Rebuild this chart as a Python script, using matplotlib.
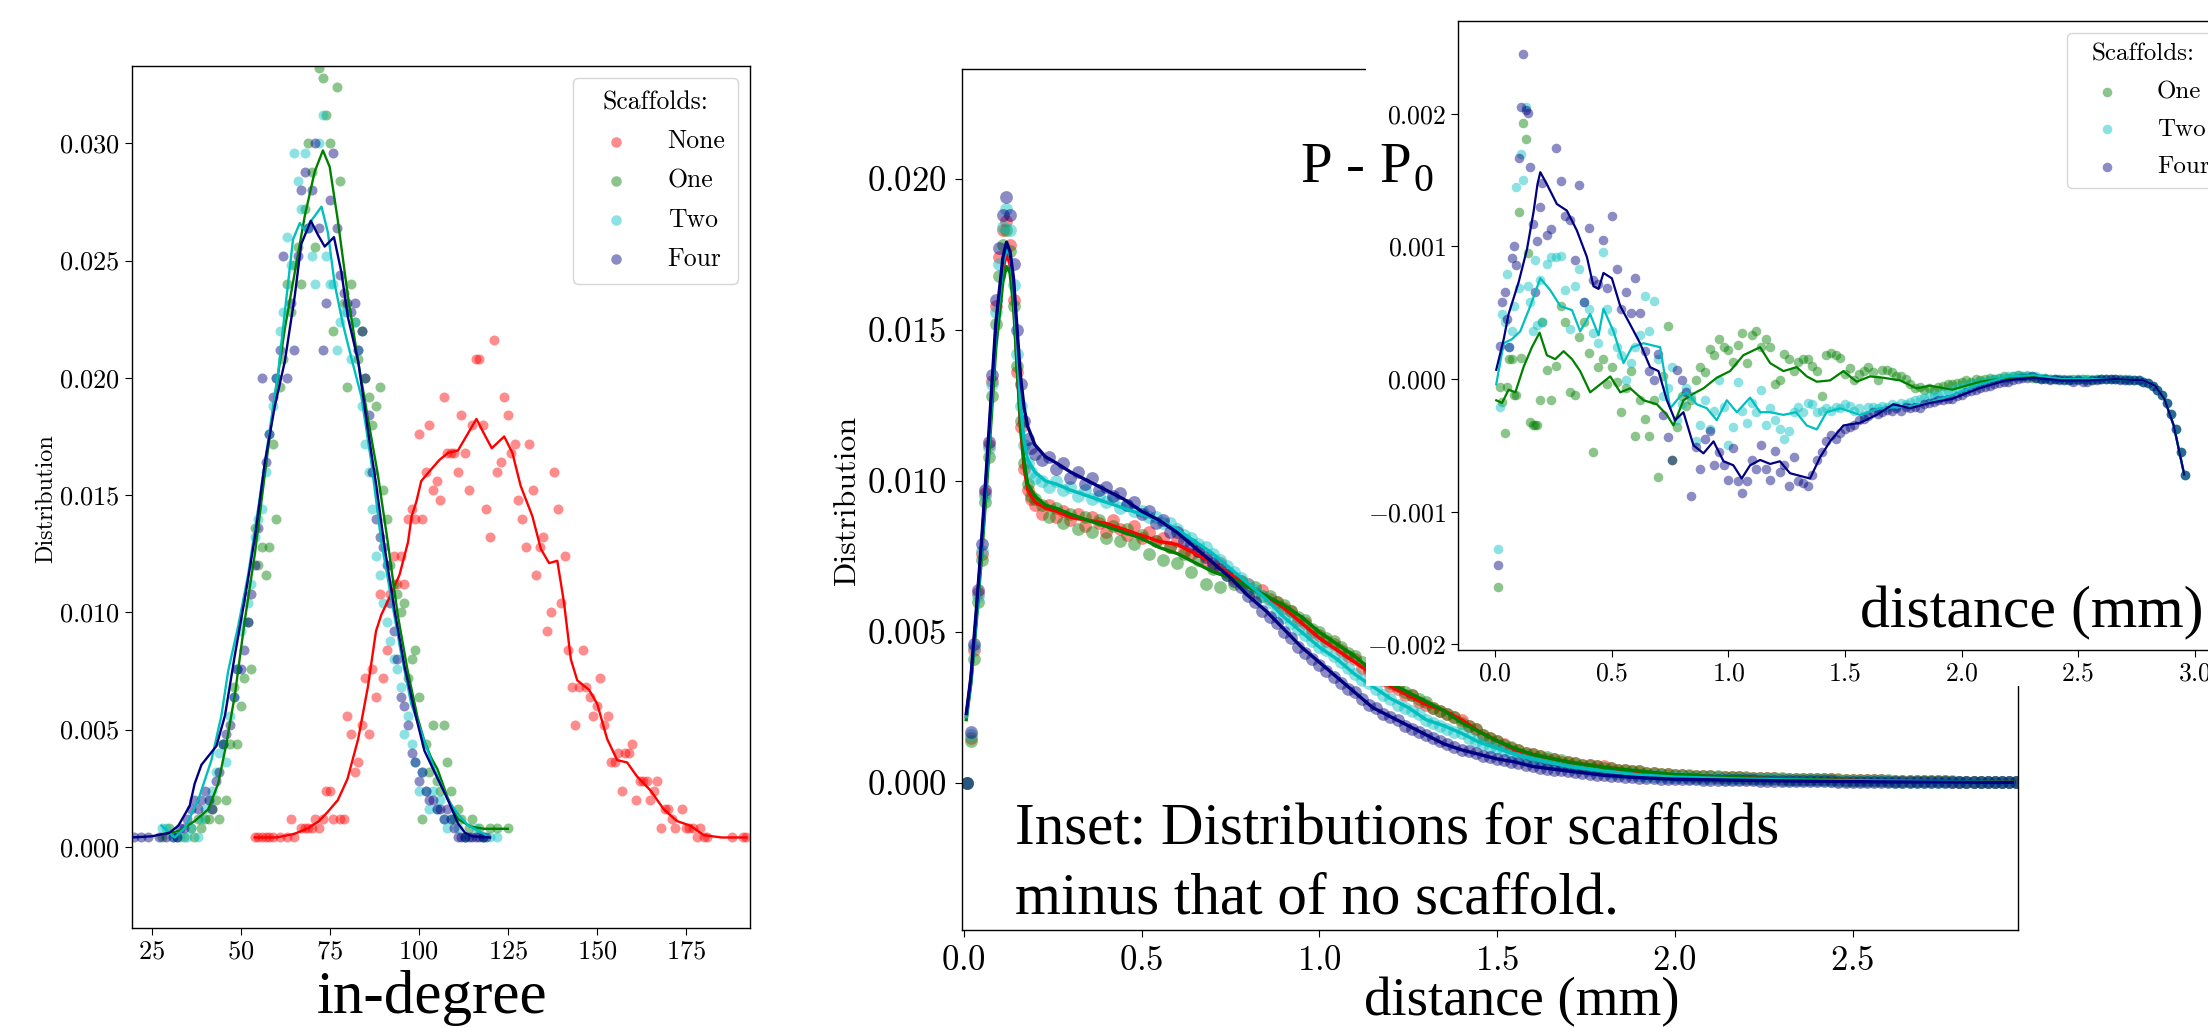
import numpy as np
import matplotlib
matplotlib.use("Agg")
import matplotlib.pyplot as plt
from matplotlib.ticker import FuncFormatter, FixedLocator
from matplotlib.patches import Rectangle

# ---------------- DATA ----------------
SERIES = ["None", "One", "Two", "Four"]
N_NODES = 2500  # in-degree distribution = node count / N_NODES

# left panel: (in-degree, node count)
NONE_PTS = [(54,1),(55,1),(56,1),(57,1),(58,1),(59,1),(61,1),(63,1),(64,3),(65,1),(67,2),(68,2),(69,2),(70,2),
            (71,3),(72,2),(73,3),(74,6),(75,6),(76,3),(78,3),(79,3),(80,14),(81,12),(82,8),(83,9),(84,13),(85,18),
            (86,12),(87,19),(88,16),(89,27),(90,18),(91,21),(92,27),(93,31),(94,28),(95,31),(96,28),(97,35),(98,36),
            (99,35),(100,44),(101,35),(102,40),(103,45),(104,38),(105,39),(106,37),(107,48),(108,42),(109,42),(110,42),
            (111,40),(112,46),(113,42),(114,38),(115,45),(116,52),(117,52),(118,45),(119,36),(120,33),(121,54),(122,40),
            (123,41),(124,48),(125,46),(126,42),(127,43),(128,37),(129,35),(130,32),(131,43),(132,38),(133,29),(134,32),
            (135,33),(136,23),(137,25),(138,40),(139,36),(140,26),(141,31),(142,21),(143,17),(144,13),(145,17),(146,21),
            (147,17),(148,16),(149,14),(150,15),(151,18),(152,13),(153,14),(154,9),(155,9),(156,10),(157,6),(158,10),
            (159,10),(160,11),(161,5),(162,7),(163,7),(164,7),(165,5),(166,6),(167,7),(168,2),(169,4),(170,4),(171,3),
            (172,2),(174,4),(175,2),(176,2),(177,2),(178,1),(179,2),(180,1),(181,1),(188,1),(191,1),(192,1)]
ONE_PTS = [(28,1),(30,2),(32,1),(34,1),(36,2),(37,1),(38,3),(39,2),(40,3),(41,3),(42,4),(43,5),(44,3),(45,11),(46,5),
           (47,11),(48,17),(49,11),(50,15),(51,18),(52,24),(53,19),(54,34),(55,30),(56,32),(57,29),(58,32),(59,43),
           (60,35),(61,49),(62,52),(63,60),(64,57),(65,62),(66,64),(67,60),(68,68),(69,75),(70,72),(71,64),(72,83),
           (73,82),(74,78),(75,75),(76,55),(77,81),(78,71),(79,58),(80,49),(81,60),(82,56),(83,52),(84,55),(85,50),
           (86,48),(87,45),(88,47),(89,49),(90,38),(91,35),(92,30),(93,28),(94,27),(95,25),(96,26),(97,18),(98,20),
           (99,21),(100,16),(101,3),(102,11),(103,8),(104,13),(105,7),(106,6),(107,13),(108,9),(109,6),(110,3),(111,4),
           (112,3),(113,1),(114,2),(115,3),(117,2),(118,1),(120,2),(122,2),(125,2)]
TWO_PTS = [(28,2),(29,2),(31,1),(33,1),(35,1),(36,2),(38,1),(39,3),(40,4),(41,5),(42,6),(43,8),(44,10),(45,11),(46,9),
           (47,14),(48,16),(49,19),(50,23),(51,24),(52,26),(53,28),(54,33),(55,35),(56,36),(57,40),(58,44),(59,47),
           (60,50),(61,55),(62,57),(63,65),(64,62),(65,74),(66,71),(67,68),(68,74),(69,66),(70,63),(71,60),(72,75),
           (73,78),(74,63),(75,60),(76,60),(77,53),(78,56),(79,57),(80,57),(81,52),(82,56),(83,53),(84,47),(85,43),
           (86,40),(87,36),(88,31),(89,29),(90,26),(91,24),(92,22),(93,20),(94,19),(95,17),(96,12),(97,14),(98,11),
           (99,9),(100,6),(101,8),(102,6),(103,4),(104,6),(105,4),(106,5),(107,3),(108,2),(109,3),(111,2),(113,1),
           (116,2),(118,1),(120,1),(122,1)]
FOUR_PTS = [(20,1),(22,1),(24,1),(27,1),(29,1),(31,1),(32,1),(33,2),(34,2),(35,3),(36,4),(37,5),(38,4),(39,5),(40,6),
            (41,5),(42,4),(43,7),(44,8),(45,11),(46,12),(47,13),(48,16),(49,19),(50,19),(51,21),(52,24),(53,27),(54,30),
            (55,34),(56,50),(57,41),(58,44),(59,48),(60,50),(61,53),(62,63),(63,50),(64,58),(65,53),(66,63),(67,70),
            (68,72),(69,66),(70,70),(71,75),(72,66),(73,53),(74,58),(75,69),(76,74),(77,66),(78,61),(79,59),(80,58),
            (81,57),(82,58),(83,53),(84,55),(85,50),(86,46),(87,40),(88,35),(89,33),(90,32),(91,30),(92,26),(93,23),
            (94,20),(95,16),(96,15),(97,13),(98,10),(99,9),(100,7),(101,8),(102,6),(103,5),(104,5),(105,4),(106,4),
            (107,3),(108,4),(109,3),(110,2),(111,1),(112,1),(113,1),(114,1),(115,1),(116,1),(117,1),(118,1),(119,1)]

# left panel smoothed curves (in-degree, distribution x1e-4)
NONE_LINE_X = [54, 60, 65, 69, 72, 74.5, 77.3, 80, 83, 85.7, 88, 89.5, 92.3, 94.6, 97, 98, 99.3, 100.7, 103.5, 105.8,
               108.2, 111, 113.7, 116.2, 118.4, 120.5, 124, 126.3, 128.6, 131.9, 134.3, 136.6, 138.9, 140.8, 142.7,
               144.5, 147.8, 150.1, 152.9, 155.7, 158.5, 161.3, 165.1, 168.8, 172.5, 176.3, 180, 185, 192]
NONE_LINE_Y = [4, 4, 5.5, 8, 11, 15, 20, 29, 46, 68, 92, 99, 108, 116, 130, 141, 147, 156, 161, 165, 168, 169, 176,
               182.5, 176, 170, 175, 168, 154, 141, 127, 121, 122, 104, 80, 71, 67, 61, 46, 37, 36, 30, 24, 16, 11, 9,
               5, 4, 4]
ONE_LINE_X = [28, 33, 37.1, 40.9, 43.7, 46, 48.4, 51.2, 54, 56.8, 59.6, 62.4, 65.2, 68, 70.8, 73.1, 75, 77.3, 80.1,
              83, 85.7, 88.5, 91.3, 94.1, 96.9, 99.7, 101.6, 103.5, 105.3, 108.1, 110.9, 114.6, 118.4, 125]
ONE_LINE_Y = [5, 7, 11, 16, 27, 44, 65, 97, 125, 159, 192, 221, 245, 269, 288, 297, 290, 267, 235, 207, 183, 159,
              130, 99, 75, 55, 45, 38, 33, 21, 12, 8.6, 7.7, 7.7]
TWO_LINE_X = [27.8, 31.5, 34.3, 38.1, 41.8, 44.6, 46.5, 49.3, 52.1, 54.9, 57.7, 60.5, 62.4, 64.7, 66.6, 68, 70.3,
              72.7, 74.5, 76.4, 78.7, 81, 83.9, 86.7, 89.5, 92.3, 95.1, 97.9, 100.7, 104.4, 108.2, 111, 114, 119]
TWO_LINE_Y = [9, 4, 8, 20, 37, 56, 75, 94, 116, 144, 173, 202, 228, 259, 266, 263, 268, 273, 262, 240, 223, 209,
              192, 164, 130, 106, 82, 61, 49, 33, 20, 14, 9, 5]
FOUR_LINE_X = [19.4, 25, 30, 32.5, 35.7, 37.1, 39, 43.2, 45.6, 48.4, 51.2, 54, 56.8, 59.6, 62.4, 65.2, 67, 69.7,
               71.7, 73.6, 76.2, 78.3, 80.1, 83, 85.7, 88.1, 90.4, 93.2, 96, 98.8, 101.6, 104.4, 108.2, 111, 113,
               115, 120]
FOUR_LINE_Y = [4, 4.5, 6, 9, 17.5, 27, 35, 43, 56, 82, 106, 132, 164, 188, 207, 235, 257, 267, 261, 256, 260, 245,
               226, 207, 178, 154, 128, 101, 77, 58, 41, 32, 20, 10, 6, 4.5, 4]

# distance bins (mm): 0.01 steps up to 0.20, then 0.02 steps
DIST_BINS = np.round(np.concatenate([np.arange(1, 21) * 0.01, np.arange(11, 149) * 0.02]), 2)

# main panel distance distributions (x1e-4)
NONE_MAIN = [0, 15, 44, 63, 76, 96, 112, 133, 158, 174, 183, 186, 178, 160, 136, 118, 104, 97, 94, 92,
             89, 92, 88, 90, 87, 89, 85, 88, 86, 83,
             87, 84, 82, 85, 81, 83, 80, 81, 78, 80,
             77, 76, 77, 74, 72, 73, 70, 68, 67, 66,
             63, 64, 61, 60, 58, 57, 54, 53, 50, 49,
             47, 46, 44, 42, 41, 38, 37, 35, 34, 32,
             31, 29, 29, 27, 26, 25, 24, 23, 22, 21,
             19, 18, 16, 15, 14, 13, 11.5, 11, 10, 9.5,
             9, 8, 8, 7, 7, 6.5, 6, 6, 5.5, 5.5,
             5, 4.5, 4.5, 4, 4, 3.5, 3.5, 3, 3, 2.7,
             2.6, 2.5, 2.4, 2.3, 2.2, 2.1, 2.0, 2.0, 1.9, 1.8,
             1.8, 1.7, 1.6, 1.6, 1.5, 1.5, 1.4, 1.4, 1.3, 1.3,
             1.2, 1.2, 1.1, 1.1, 1.0, 1.0, 0.9, 0.9, 0.9, 0.8,
             0.8, 0.8, 0.7, 0.7, 0.7, 0.6, 0.6, 0.6, 0.5, 0.5,
             0.5, 0.5, 0.4, 0.4, 0.4, 0.4, 0.3, 0.3]
ONE_MAIN = [0, 14, 41, 60, 74, 93, 108, 128, 152, 168, 178, 183, 176, 158, 138, 120, 106, 99, 95, 94,
            92, 88, 91, 86, 89, 84, 88, 83, 87, 81,
            85, 80, 84, 79, 82, 76, 80, 74, 78, 73,
            76, 70, 74, 66, 71, 65, 69, 66, 67, 64,
            65, 62, 62, 60, 59, 57, 55, 54, 51, 50,
            48, 47, 45, 43, 42, 40, 38, 36, 35, 33,
            32, 30, 29, 28, 27, 25, 24, 23, 22, 20,
            19, 18, 16, 15, 14, 12.5, 12, 11, 10, 9.5,
            9, 8.5, 8, 7.5, 7, 6.5, 6, 6, 5.5, 5,
            5, 4.5, 4.5, 4, 4, 3.5, 3.5, 3, 3, 2.8,
            2.7, 2.6, 2.5, 2.4, 2.3, 2.2, 2.1, 2.0, 2.0, 1.9,
            1.8, 1.8, 1.7, 1.6, 1.6, 1.5, 1.5, 1.4, 1.4, 1.3,
            1.3, 1.2, 1.2, 1.1, 1.1, 1.0, 1.0, 0.9, 0.9, 0.9,
            0.8, 0.8, 0.8, 0.7, 0.7, 0.7, 0.6, 0.6, 0.6, 0.5,
            0.5, 0.5, 0.5, 0.4, 0.4, 0.4, 0.3, 0.3]
TWO_MAIN = [0, 16, 45, 62, 77, 95, 111, 132, 156, 172, 184, 190, 183, 165, 142, 125, 112, 106, 103, 101,
            100, 98, 100, 97, 98, 95, 97, 94, 95, 93,
            94, 91, 92, 90, 90, 88, 88, 86, 86, 84,
            82, 81, 79, 78, 76, 74, 72, 70, 68, 66,
            64, 62, 60, 57, 55, 53, 51, 49, 47, 45,
            44, 42, 40, 38, 36, 34, 33, 31, 29, 28,
            26, 25, 24, 23, 21, 20, 19, 18, 17, 16.5,
            15, 14, 13, 12, 11.5, 11, 10, 9, 8.5, 8,
            7.5, 7, 6.5, 6, 5.5, 5, 5, 4.5, 4.3, 4,
            3.7, 3.4, 3.2, 3, 2.6, 2.5, 2.4, 2.2, 2.1, 2.0,
            1.9, 1.8, 1.8, 1.7, 1.6, 1.6, 1.5, 1.5, 1.4, 1.4,
            1.3, 1.3, 1.2, 1.2, 1.1, 1.1, 1.0, 1.0, 0.9, 0.9,
            0.9, 0.8, 0.8, 0.8, 0.7, 0.7, 0.7, 0.6, 0.6, 0.6,
            0.5, 0.5, 0.5, 0.5, 0.4, 0.4, 0.4, 0.4, 0.3, 0.3,
            0.3, 0.3, 0.3, 0.2, 0.2, 0.2, 0.2, 0.2]
FOUR_MAIN = [0, 17, 46, 64, 79, 97, 113, 135, 160, 177, 188, 194, 188, 172, 150, 132, 120, 114, 111, 109,
             107, 108, 104, 106, 101, 103, 99, 101, 97, 98,
             95, 96, 92, 93, 89, 90, 86, 87, 83, 83,
             80, 79, 77, 75, 73, 71, 69, 67, 65, 62,
             60, 57, 55, 53, 50, 48, 45, 43, 41, 39,
             37, 35, 33, 31, 30, 28, 26, 25, 23, 22,
             21, 19, 18, 17, 16, 15, 14, 13, 12, 11,
             10.5, 10, 9, 8.5, 8, 7.5, 7, 6.5, 6, 5.5,
             5, 4.8, 4.5, 4.2, 4, 3.6, 3.3, 3, 2.8, 2.6,
             2.4, 2.2, 2, 1.9, 1.8, 1.7, 1.6, 1.5, 1.4, 1.3,
             1.3, 1.2, 1.2, 1.1, 1.1, 1.0, 1.0, 1.0, 0.9, 0.9,
             0.9, 0.8, 0.8, 0.8, 0.7, 0.7, 0.7, 0.7, 0.6, 0.6,
             0.6, 0.6, 0.5, 0.5, 0.5, 0.5, 0.5, 0.4, 0.4, 0.4,
             0.4, 0.4, 0.4, 0.3, 0.3, 0.3, 0.3, 0.3, 0.3, 0.3,
             0.2, 0.2, 0.2, 0.2, 0.2, 0.2, 0.2, 0.2]

# main panel smoothed curves (x1e-4)
MAIN_LINE_D = [0.007, 0.02, 0.035, 0.05, 0.07, 0.09, 0.11, 0.12, 0.13, 0.14, 0.15, 0.16, 0.17, 0.18, 0.20, 0.23,
               0.26, 0.30, 0.35, 0.40, 0.45, 0.50, 0.55, 0.60, 0.65, 0.70, 0.75, 0.80, 0.85, 0.90, 0.95, 1.00, 1.05,
               1.10, 1.15, 1.20, 1.25, 1.30, 1.35, 1.40, 1.45, 1.50, 1.55, 1.60, 1.70, 1.80, 1.90, 2.00, 2.20, 2.40,
               2.60, 2.80, 2.95]
NONE_MAIN_LINE = [22, 34, 55, 78, 112, 148, 170, 175, 172, 160, 138, 117, 104, 97, 93, 91, 90, 88, 87, 86, 84, 82,
                  80, 79, 76, 73, 69, 65, 62, 58, 53, 48, 44, 40, 36, 32, 29, 26, 24, 21, 17, 14, 11, 9.5, 7, 5.3,
                  3.8, 2.7, 1.7, 1.1, 0.7, 0.5, 0.3]
ONE_MAIN_LINE = [21, 33, 53, 75, 108, 144, 166, 171, 169, 158, 138, 119, 106, 99, 95, 92, 91, 89, 87, 85, 83, 81,
                 78, 76, 73, 70, 68, 65, 62, 59, 55, 50, 46, 42, 37, 33, 30, 27, 24, 20, 17, 14, 11.5, 9.5, 7, 5.2,
                 4, 2.8, 1.7, 1.1, 0.7, 0.5, 0.3]
TWO_MAIN_LINE = [22, 34, 55, 78, 112, 150, 172, 177, 175, 165, 145, 125, 113, 107, 103, 100, 99, 97, 95, 93, 91, 89,
                 87, 84, 80, 76, 71, 66, 61, 55, 50, 45, 41, 36, 32, 28, 25, 21, 19, 16.5, 13.5, 11.5, 9.5, 8, 5.5,
                 4, 2.7, 2, 1.3, 0.9, 0.6, 0.4, 0.2]
FOUR_MAIN_LINE = [23, 35, 57, 80, 115, 152, 174, 179, 176, 167, 150, 134, 124, 118, 112, 108, 106, 103, 100, 97, 94,
                  90, 87, 83, 78, 73, 68, 62, 57, 51, 45, 40, 35, 30, 25, 22, 19, 16, 13, 11, 9.5, 8, 7, 5.5, 4,
                  2.6, 1.8, 1.3, 0.9, 0.6, 0.4, 0.3, 0.2]

# inset: P - P0 (x1e-5) on DIST_BINS
ONE_INSET = [-157, -6, -17, -41, -6, 15, 15, -12, -12, 126, 16, 193, 181, 95, -32, -35, -35, -35, -16, 43,
             7, -16, 10, 55, 43, -10, -12, 32, 43, 20,
             -55, 9, 15, -4, 9, -2, -25, -7, 6, -43,
             -16, -30, -43, -16, -74, 2, 40, -61, -36, -13,
             -20, -16, -1, 9, 5, 23, 18, 30, 24, 22,
             13, 26, 35, 12, 33, 36, 24, 30, 24, -4,
             -1, 19, 15, 6, 13, 15, 15, 10, 6, -13,
             18, 20, 18, 16, 4, 8, -1, 4, 6, 9,
             5, -1, 7, 7, 5, 2, 2, 0, -4, -7,
             -6, -8, -7, -8, -6, -5, -4, -4, -3, -2,
             -1, -2, 0, -1, 0, 1, 0, 1, 2, 1,
             2, 3, 2, 2, 1, 1, 0, 1, 0, 0,
             0, 0, -1, 0, 0, 0, 0, -1, 0, 0,
             0, 0, 0, 0, 0, -1, -1, -1, -2, -3,
             -5, -8, -12, -18, -26, -38, -55, -72]
TWO_INSET = [-128, -21, 49, 43, 79, 24, 36, 55, 145, 69, 170, 150, 205, 70, 58, 36, 90, 41, 75, 43,
             87, 92, 92, 93, 67, 38, 70, 83, 58, 53,
             35, 27, 96, 53, 36, 24, 18, -1, 12, 24,
             33, 63, 36, 59, 15, -13, -7, 9, -31, -19,
             -7, -13, -47, -35, -16, -38, -24, -1, -21, -50,
             -36, -2, -24, -33, -18, -25, -8, -35, -22, -31,
             -38, -45, -39, -25, -21, -25, -18, -19, -25, -24,
             -22, -24, -21, -22, -19, -20, -24, -22, -27, -21,
             -21, -22, -20, -21, -19, -20, -18, -19, -17, -16,
             -15, -14, -13, -12, -12, -10, -9, -8, -7, -6,
             -5, -4, -3, -2, -2, -1, 0, 1, 1, 2,
             2, 3, 2, 3, 2, 2, 1, 1, 0, 0,
             0, -1, 0, -1, 0, 0, -1, 0, 0, 0,
             0, 0, 0, 0, -1, 0, -1, -1, -2, -3,
             -5, -8, -12, -18, -26, -38, -55, -72]
FOUR_INSET = [-140, 25, 58, 66, 45, 24, 91, 100, 86, 167, 205, 245, 203, 201, 160, 117, 66, 104, 130, 148,
              109, 113, 174, 149, 123, 120, 90, 146, 58, 114,
              75, 72, 105, 69, 123, 83, 53, 66, 50, 76,
              50, 21, 6, -1, 19, -27, -44, -61, 7, -1,
              -10, -88, -51, -68, -45, -39, -65, -55, -65, -76,
              -52, -77, -86, -77, -61, -68, -50, -68, -76, -54,
              -70, -65, -81, -59, -77, -78, -81, -72, -61, -55,
              -47, -42, -45, -41, -38, -36, -35, -31, -30, -28,
              -25, -26, -25, -23, -24, -22, -24, -21, -22, -21,
              -22, -19, -18, -17, -16, -16, -15, -15, -13, -12,
              -10, -9, -8, -7, -6, -5, -4, -3, -2, -2,
              -1, 0, 1, 1, 2, 1, 0, 0, -1, 0,
              -1, -1, -1, -2, -1, -2, -2, -1, -1, 0,
              0, 0, 0, -1, -1, -1, -1, -1, -2, -3,
              -5, -8, -12, -18, -26, -38, -55, -72]

# inset smoothed curves (x1e-5)
ONE_INSET_LINE_D = [0.004, 0.029, 0.057, 0.086, 0.121, 0.157, 0.19, 0.221, 0.257, 0.293, 0.329, 0.364, 0.407, 0.45,
                    0.493, 0.536, 0.579, 0.636, 0.693, 0.736, 0.764, 0.807, 0.85, 0.893, 0.95, 1.007, 1.064, 1.136,
                    1.179, 1.236, 1.293, 1.336, 1.379, 1.436, 1.493, 1.55, 1.607, 1.664, 1.736, 1.807, 1.864, 1.96,
                    2.08, 2.2, 2.31, 2.43, 2.545, 2.66, 2.78, 2.83, 2.87, 2.91, 2.955]
ONE_INSET_LINE = [-16, -18, -8, -10, 9, 24, 35, 18, 15, 21, 15, 6, -10, -4, 2, -10, -7, -16, -19, -27, -35, -16,
                  -11, -7, 1, 6, 18, 24, 12, 6, 9, 2, -2, -1, 6, -2, 2, 1, -1, -7, -5, -8, -2, 1, 2, 0, 0, 0, -1,
                  -5, -15, -35, -72]
TWO_INSET_LINE_D = [0.004, 0.036, 0.071, 0.107, 0.15, 0.193, 0.236, 0.279, 0.329, 0.364, 0.407, 0.443, 0.464, 0.507,
                    0.55, 0.586, 0.636, 0.707, 0.75, 0.793, 0.821, 0.864, 0.907, 0.95, 0.993, 1.036, 1.093, 1.136,
                    1.179, 1.236, 1.29, 1.336, 1.379, 1.421, 1.479, 1.564, 1.65, 1.75, 1.836, 1.96, 2.08, 2.2, 2.31,
                    2.43, 2.545, 2.66, 2.78, 2.83, 2.87, 2.91, 2.955]
TWO_INSET_LINE = [-4, 27, 30, 36, 55, 76, 67, 55, 52, 36, 49, 33, 53, 36, 12, 24, 27, 24, -22, -13, -10, -19, -22,
                  -31, -16, -25, -14, -25, -25, -27, -25, -35, -38, -25, -22, -27, -22, -21, -19, -12, -4, 2, 3, 0,
                  0, 0, -1, -5, -15, -35, -72]
FOUR_INSET_LINE_D = [0.004, 0.036, 0.057, 0.1, 0.136, 0.164, 0.181, 0.193, 0.221, 0.264, 0.307, 0.35, 0.393, 0.421,
                     0.443, 0.464, 0.5, 0.536, 0.579, 0.621, 0.664, 0.7, 0.736, 0.771, 0.807, 0.85, 0.893, 0.936,
                     0.979, 1.021, 1.057, 1.093, 1.136, 1.179, 1.221, 1.264, 1.307, 1.35, 1.393, 1.436, 1.493, 1.564,
                     1.636, 1.707, 1.779, 1.864, 1.958, 2.075, 2.19, 2.31, 2.43, 2.545, 2.66, 2.78, 2.83, 2.87, 2.91,
                     2.955]
FOUR_INSET_LINE = [7, 30, 49, 73, 98, 126, 147, 156, 147, 132, 127, 112, 92, 70, 68, 80, 76, 55, 41, 27, 9, 6, -16,
                   -31, -25, -50, -56, -47, -62, -65, -75, -65, -61, -64, -62, -71, -73, -75, -59, -47, -35, -33,
                   -27, -19, -22, -18, -15, -7, -1, 1, -1, -1, 0, -1, -5, -15, -35, -72]

# ---------------- STYLE ----------------
plt.rcParams["font.family"] = ["cmr10", "DejaVu Serif"]
plt.rcParams["mathtext.fontset"] = "cm"
plt.rcParams["axes.unicode_minus"] = False
plt.rcParams["axes.linewidth"] = 1.0

PT_COL = {"None": "red", "One": "green", "Two": "c", "Four": "navy"}
LN_COL = {"None": "red", "One": "green", "Two": "c", "Four": "navy"}
BIG = "Liberation Serif"

W, H = 2208, 1028
fig = plt.figure(figsize=(W / 100, H / 100), dpi=100)
fig.patch.set_facecolor("white")


def rect(l, t, r, b):
    return [l / W, 1 - b / H, (r - l) / W, (b - t) / H]


def mfmt(fmt):
    return FuncFormatter(lambda v, p: "$" + format(v, fmt) + "$")


# ---------------- LEFT PANEL ----------------
ax1 = fig.add_axes(rect(132, 66, 750, 928))
left_pts = {"None": NONE_PTS, "One": ONE_PTS, "Two": TWO_PTS, "Four": FOUR_PTS}
left_lines = {"None": (NONE_LINE_X, NONE_LINE_Y), "One": (ONE_LINE_X, ONE_LINE_Y),
              "Two": (TWO_LINE_X, TWO_LINE_Y), "Four": (FOUR_LINE_X, FOUR_LINE_Y)}
for name in SERIES:
    deg = [p[0] for p in left_pts[name]]
    cnt = np.array([p[1] for p in left_pts[name]], dtype=float)
    ax1.scatter(deg, cnt / N_NODES, s=52, color=PT_COL[name], alpha=0.45, linewidths=0, label=name, zorder=2)
for name in SERIES:
    lx, ly = left_lines[name]
    ax1.plot(lx, np.array(ly) * 1e-4, color=LN_COL[name], lw=1.7, zorder=3)
ax1.set_xlim(19.5, 193)
ax1.set_ylim(-0.00346, 0.0333)
ax1.xaxis.set_major_locator(FixedLocator([25, 50, 75, 100, 125, 150, 175]))
ax1.yaxis.set_major_locator(FixedLocator([0, 0.005, 0.010, 0.015, 0.020, 0.025, 0.030]))
ax1.xaxis.set_major_formatter(mfmt(".0f"))
ax1.yaxis.set_major_formatter(mfmt(".3f"))
ax1.tick_params(labelsize=19, length=5)
ax1.legend(title="Scaffolds:", loc="upper right", fontsize=18.5, title_fontsize=18.5,
           markerscale=1.05, borderaxespad=0.45, handlelength=2.4, labelspacing=0.6, borderpad=0.5)
fig.text(46 / W, 1 - 499 / H, "Distribution", rotation=90, ha="center", va="center", fontsize=17.5)
fig.text(432 / W, 1 - 1013 / H, "in-degree", ha="center", va="baseline", fontsize=44, family=BIG)

# ---------------- MIDDLE PANEL ----------------
ax2 = fig.add_axes(rect(962, 68.7, 2018, 929.6))
main_vals = {"None": NONE_MAIN, "One": ONE_MAIN, "Two": TWO_MAIN, "Four": FOUR_MAIN}
main_lines = {"None": NONE_MAIN_LINE, "One": ONE_MAIN_LINE, "Two": TWO_MAIN_LINE, "Four": FOUR_MAIN_LINE}
for name in SERIES:
    ax2.scatter(DIST_BINS, np.array(main_vals[name]) * 1e-4, s=85, color=PT_COL[name], alpha=0.45,
                linewidths=0, zorder=2)
for name in SERIES:
    ax2.plot(MAIN_LINE_D, np.array(main_lines[name]) * 1e-4, color=LN_COL[name], lw=2.4, zorder=3)
ax2.set_xlim(-0.005, 2.965)
ax2.set_ylim(-0.00485, 0.02365)
ax2.xaxis.set_major_locator(FixedLocator([0, 0.5, 1.0, 1.5, 2.0, 2.5]))
ax2.yaxis.set_major_locator(FixedLocator([0, 0.005, 0.010, 0.015, 0.020]))
ax2.xaxis.set_major_formatter(mfmt(".1f"))
ax2.yaxis.set_major_formatter(mfmt(".3f"))
ax2.tick_params(labelsize=25, length=5, pad=6)
fig.text(847 / W, 1 - 500 / H, "Distribution", rotation=90, ha="center", va="center", fontsize=23)
fig.text(1522 / W, 1 - 1015 / H, "distance (mm)", ha="center", va="baseline", fontsize=39.5, family=BIG)
fig.text(1015 / W, 1 - 843 / H, "Inset: Distributions for scaffolds", ha="left", va="baseline",
         fontsize=42.5, family=BIG)
fig.text(1015 / W, 1 - 914 / H, "minus that of no scaffold.", ha="left", va="baseline",
         fontsize=42.5, family=BIG)

# white backdrop of the inset picture
fig.add_artist(Rectangle((1366 / W, 1 - 686 / H), 1 - 1366 / W, 686 / H, transform=fig.transFigure,
                         facecolor="white", edgecolor="none", zorder=1))

# ---------------- INSET ----------------
ax3 = fig.add_axes(rect(1458, 21, 2232, 649.6))
ax3.set_zorder(2)
inset_vals = {"One": ONE_INSET, "Two": TWO_INSET, "Four": FOUR_INSET}
inset_lines = {"One": (ONE_INSET_LINE_D, ONE_INSET_LINE), "Two": (TWO_INSET_LINE_D, TWO_INSET_LINE),
               "Four": (FOUR_INSET_LINE_D, FOUR_INSET_LINE)}
for name in ["One", "Two", "Four"]:
    ax3.scatter(DIST_BINS, np.array(inset_vals[name]) * 1e-5, s=48, color=PT_COL[name], alpha=0.45,
                linewidths=0, label=name, zorder=2)
for name in ["One", "Two", "Four"]:
    d, v = inset_lines[name]
    ax3.plot(d, np.array(v) * 1e-5, color=LN_COL[name], lw=1.6, zorder=3)
ax3.set_xlim(-0.16, 3.16)
ax3.set_ylim(-0.00204, 0.0027)
ax3.xaxis.set_major_locator(FixedLocator([0, 0.5, 1.0, 1.5, 2.0, 2.5, 3.0]))
ax3.yaxis.set_major_locator(FixedLocator([-0.002, -0.001, 0, 0.001, 0.002]))
ax3.xaxis.set_major_formatter(mfmt(".1f"))
ax3.yaxis.set_major_formatter(mfmt(".3f"))
ax3.tick_params(labelsize=18.5, length=5)
ax3.legend(title="Scaffolds:", loc="upper right", fontsize=18, title_fontsize=18, markerscale=1.0,
           borderaxespad=0.5, handlelength=2.4, labelspacing=0.6)
fig.text(2203 / W, 1 - 627 / H, "distance (mm)", ha="right", va="baseline", fontsize=43, family=BIG, zorder=4)
fig.text(1300 / W, 1 - 181 / H, "P - P$_{\\mathregular{0}}$", ha="left", va="baseline", fontsize=41,
         family=BIG, zorder=4)

fig.savefig("out.png", dpi=100, facecolor="white")
